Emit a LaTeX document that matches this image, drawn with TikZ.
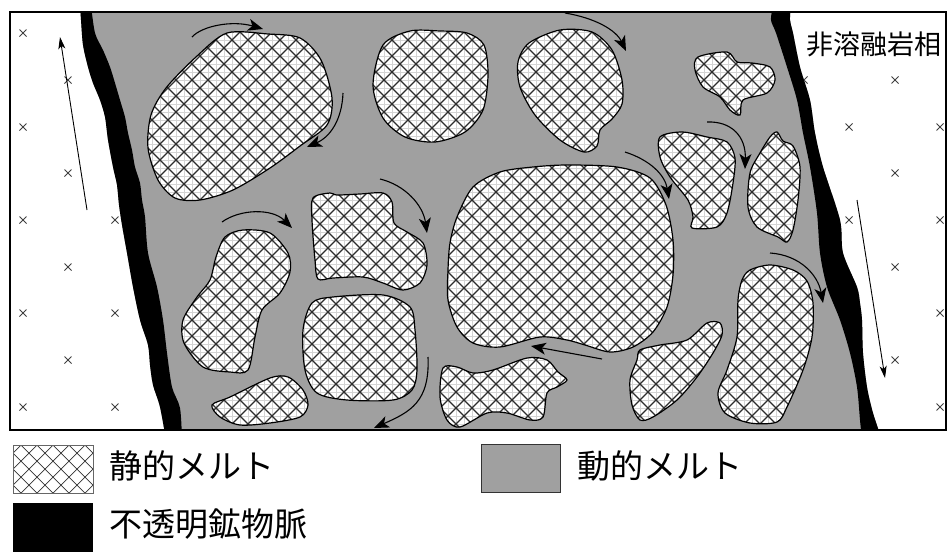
\documentclass[tikz,border=0pt]{standalone}
\usepackage{fontspec}
\newfontfamily\jp{Noto Sans CJK JP}
\usetikzlibrary{arrows.meta}
\definecolor{meltgray}{RGB}{160,160,160}
\definecolor{hatchdark}{RGB}{45,45,45}
\definecolor{gridfaint}{RGB}{212,212,212}
\tikzset{
  flow/.style={line width=1.1pt, -{Stealth[length=15pt,width=12pt,inset=4pt]}},
  longflow/.style={line width=0.9pt, -{Stealth[length=12pt,width=7pt,inset=3pt]}},
  blobline/.style={line width=1.2pt, black},
  crossmark/.style={line width=0.8pt, black!75},
  hatchline/.style={line width=1.2pt, hatchdark},
  faintline/.style={line width=0.6pt, gridfaint},
  legendtext/.style={inner sep=0pt, anchor=west, font=\jp\fontsize{33}{36}\selectfont},
}
% vein margins
\def\leftveinL{(80,5) (81,20) (83,45) (88,67) (93,83) (100,100) (105,117) (108,140) (113,167) (117,185) (119,205) (122,225) (127,253) (133,287) (140,320) (148,345) (150,365) (153,385) (160,407) (166,440)}
\def\leftveinR{(182,440) (180,408) (172,387) (167,353) (163,320) (157,287) (148,253) (145,217) (142,200) (140,183) (135,167) (132,150) (128,133) (125,117) (120,100) (115,83) (110,67) (103,50) (95,33) (91,5)}
\def\rightveinL{(773,5) (771,20) (776,33) (787,67) (797,100) (803,133) (810,167) (817,213) (820,253) (827,287) (840,320) (850,353) (857,387) (860,420) (862,440)}
\def\rightveinR{(882,440) (873,413) (867,387) (863,353) (862,320) (860,303) (857,287) (843,253) (840,220) (823,167) (815,133) (810,100) (800,67) (793,33) (790,20) (791,5)}
% static melt pockets
\def\blobA{plot[smooth cycle] coordinates {(227,33) (268,34) (300,38) (321,60) (332,98) (327,125) (300,146) (270,168) (233,190) (200,200) (175,198) (158,180) (148,148) (151,115) (166,88) (196,57)}}
\def\blobB{plot[smooth cycle] coordinates {(383,45) (410,31) (440,31) (467,33) (484,45) (488,75) (483,110) (465,132) (435,142) (405,137) (383,118) (373,85)}}
\def\blobC{plot[smooth cycle] coordinates {(529,43) (560,30) (592,32) (612,50) (622,80) (622,104) (612,119) (600,130) (597,146) (584,152) (560,140) (535,115) (520,87) (518,62)}}
\def\blobD{plot[smooth cycle] coordinates {(698,57) (727,52) (737,62) (752,63) (770,67) (775,80) (767,93) (743,100) (740,115) (730,110) (720,97) (703,87) (695,70)}}
\def\blobE{plot[smooth cycle] coordinates {(660,137) (682,132) (707,137) (727,142) (735,158) (733,183) (727,213) (717,227) (692,228) (693,217) (688,200) (670,177) (660,157)}}
\def\blobF{plot[smooth cycle] coordinates {(777,132) (783,141) (793,146) (800,167) (798,200) (793,230) (787,242) (778,237) (757,227) (748,207) (750,173) (760,153) (770,137)}}
\def\blobG{plot[smooth cycle] coordinates {(473,187) (500,172) (533,167) (567,165) (617,167) (650,178) (666,205) (673,240) (673,275) (667,307) (653,332) (633,347) (610,352) (585,345) (567,340) (540,337) (500,347) (473,343) (457,327) (448,300) (448,270) (450,243) (457,217)}}
\def\blobH{plot[smooth cycle] coordinates {(225,237) (243,230) (270,233) (288,253) (290,272) (280,293) (262,310) (255,337) (248,370) (230,372) (203,367) (184,343) (183,320) (197,297) (210,280) (216,257)}}
\def\blobI{plot[smooth cycle] coordinates {(313,198) (330,193) (337,195) (360,194) (383,193) (392,202) (394,223) (407,232) (423,243) (427,265) (420,283) (403,290) (383,283) (363,277) (333,278) (318,279) (315,260) (312,220)}}
\def\blobJ{plot[smooth cycle] coordinates {(333,297) (383,295) (410,307) (415,330) (417,370) (412,390) (393,400) (347,400) (317,393) (305,370) (303,330) (312,303)}}
\def\blobK{plot[smooth cycle] coordinates {(212,405) (230,397) (270,378) (288,377) (303,390) (308,405) (300,417) (270,423) (240,425) (220,417)}}
\def\blobL{plot[smooth cycle] coordinates {(443,368) (457,367) (473,373) (493,370) (527,358) (547,360) (558,372) (567,380) (557,387) (547,393) (543,417) (530,420) (507,413) (487,413) (460,427) (447,420) (440,397)}}
\def\blobM{plot[smooth cycle] coordinates {(640,350) (660,345) (687,340) (707,323) (720,323) (722,335) (713,353) (697,377) (677,400) (653,417) (640,420) (632,405) (630,380) (637,360)}}
\def\blobN{plot[smooth cycle] coordinates {(750,270) (770,265) (793,270) (807,281) (813,303) (812,337) (803,370) (787,407) (777,422) (750,423) (725,413) (718,393) (727,370) (737,337) (738,300) (742,280)}}
\def\allblobs{\blobA \blobB \blobC \blobD \blobE \blobF \blobG \blobH \blobI \blobJ \blobK \blobL \blobM \blobN}

\begin{document}
\begin{tikzpicture}[x=1pt,y=-1pt]
\useasboundingbox (0,0) rectangle (951,552);
\fill[white] (0,0) rectangle (951,552);

\begin{scope}
  \clip (10,12) rectangle (946,430);
  % host rock crosses
  \foreach \p in {(23,33),(23,127),(23,220),(23,313),(23,407),
                  (68,80),(68,173),(68,267),(68,360),
                  (115,220),(115,313),(115,407),
                  (804,80),(849,127),(849,220),
                  (895,80),(895,173),(895,267),(895,360),
                  (940,127),(940,220),(940,313),(940,407)}
    \draw[crossmark] \p ++(-3.5,-3.5) -- ++(7,7) \p ++(-3.5,3.5) -- ++(7,-7);
  % dynamic melt
  \fill[meltgray] plot[smooth] coordinates {\leftveinL} -- plot[smooth] coordinates {\rightveinR} -- cycle;
  % opaque mineral veins
  \fill[black] plot[smooth] coordinates {\leftveinL} -- plot[smooth] coordinates {\leftveinR} -- cycle;
  \fill[black] plot[smooth] coordinates {\rightveinL} -- plot[smooth] coordinates {\rightveinR} -- cycle;
  % static melt with cross hatching
  \begin{scope}
    \clip \allblobs;
    \fill[white] (0,0) rectangle (951,552);
    \foreach \g in {0,8,...,952} \draw[faintline] (\g,0) -- (\g,440);
    \foreach \g in {0,8,...,440} \draw[faintline] (0,\g) -- (951,\g);
    \foreach \c in {-448,-432,...,944} \draw[hatchline] (\c,0) -- ++(448,448);
    \foreach \c in {0,16,...,1392} \draw[hatchline] (\c,0) -- ++(-448,448);
  \end{scope}
  \draw[blobline] \allblobs;
  % flow of the dynamic melt
  \draw[flow] (192,37) .. controls (202,26) and (232,20) .. (263,29);
  \draw[flow] (343,93) .. controls (342,120) and (330,137) .. (307,147);
  \draw[flow] (565,13) .. controls (595,18) and (616,30) .. (626,51);
  \draw[flow] (625,152) .. controls (650,160) and (665,175) .. (669,199);
  \draw[flow] (707,122) .. controls (732,121) and (746,137) .. (745,169);
  \draw[flow] (222,222) .. controls (240,209) and (272,208) .. (292,228);
  \draw[flow] (380,179) .. controls (405,185) and (423,205) .. (427,233);
  \draw[flow] (602,359) -- (531,346);
  \draw[flow] (428,357) .. controls (430,402) and (410,412) .. (374,428);
  \draw[flow] (770,253) .. controls (800,255) and (818,275) .. (823,303);
  \draw[longflow] (87,210) -- (60,37);
  \draw[longflow] (857,200) -- (885,378);
\end{scope}
\node[inner sep=0pt, anchor=west, font=\jp\fontsize{27}{29}\selectfont] (hostrock) at (806,44) {非溶融岩相};
\draw[line width=2.6pt] (10,12) rectangle (946,430);

% legend
\begin{scope}
  \clip (13,445) rectangle (93,493);
  \foreach \c in {-43,-27,...,109} \draw[line width=0.7pt, black!80] (\c,445) -- ++(48,48);
  \foreach \c in {-43,-27,...,157} \draw[line width=0.7pt, black!80] (\c,445) -- ++(-48,48);
\end{scope}
\draw[line width=0.8pt, black!60] (13,445) rectangle (93,493);
\node[legendtext] (statictext) at (109,466) {静的メルト};
\fill[meltgray, draw=black!80, line width=0.9pt] (481,444) rectangle (560,492);
\node[legendtext] (dynamictext) at (577,466) {動的メルト};
\fill[black] (13,503) rectangle (93,552);
\node[legendtext] (veintext) at (109,524) {不透明鉱物脈};
\end{tikzpicture}
\end{document}
